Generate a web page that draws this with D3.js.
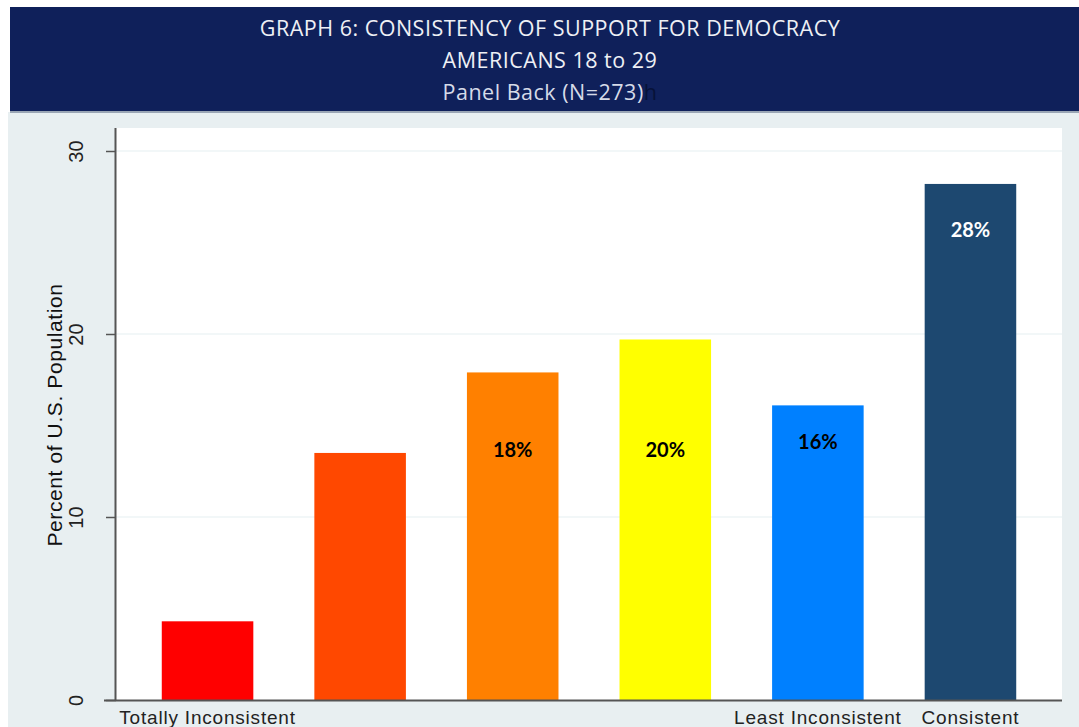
<!DOCTYPE html>
<html><head><meta charset="utf-8">
<script src="https://cdn.jsdelivr.net/npm/d3@7"></script>
<style>body{margin:0;background:#fff;}svg{display:block;}</style>
</head><body>
<svg id="chart" width="1079" height="727"></svg>
<script>
const categories = ["c1","c2","c3","c4","c5","c6"];
const values = [4.3, 13.5, 17.9, 19.7, 16.1, 28.2];
const barColors = ["#ff0000","#ff4800","#ff8000","#ffff00","#0080ff","#1d4870"];
const barLabels = ["", "", "18%", "20%", "16%", "28%"];
const labelColors = ["#000","#000","#000","#000","#000","#fff"];
const labelValues = [0, 0, 13.3, 13.3, 13.7, 25.3];
const xTickLabels = ["Totally Inconsistent","","","","Least Inconsistent","Consistent"];
const yTicks = [0, 10, 20, 30];
const titleLines = ["GRAPH 6: CONSISTENCY OF SUPPORT FOR DEMOCRACY","AMERICANS 18 to 29","Panel Back (N=273)"];

const svg = d3.select("#chart");
svg.append("rect").attr("x",8).attr("y",112).attr("width",1071).attr("height",615).attr("fill","#e8eff1");
svg.append("rect").attr("x",10).attr("y",9).attr("width",1069).attr("height",104).attr("fill","#9aa6b5");
svg.append("rect").attr("x",10).attr("y",7).attr("width",1069).attr("height",104).attr("fill","#0f205a");
const tf = "'Open Sans', 'Noto Sans', sans-serif";
const ty = [36, 68, 100];
titleLines.forEach((t,i)=>{
  const tx = svg.append("text").attr("x",550).attr("y",ty[i]).attr("text-anchor","middle")
    .attr("font-family",tf).attr("font-size",21.5).attr("fill",i==2?"#d6dbe8":"#eef0f5")
    .attr("letter-spacing",0.5).text(t);
  if(i==2) tx.append("tspan").attr("fill","#071238").text("h");
});

const pLeft=116, pRight=1062, pTop=128, pBottom=700;
svg.append("rect").attr("x",pLeft).attr("y",pTop).attr("width",pRight-pLeft).attr("height",pBottom-pTop).attr("fill","#fff");

const x = d3.scaleBand().domain(categories).range([pLeft,pRight]).paddingInner(0.4).paddingOuter(0.3);
const y = d3.scaleLinear().domain([0,30]).range([pBottom, pBottom-30*18.3]);

svg.append("g").selectAll("line").data(yTicks.filter(d=>d>0)).join("line")
  .attr("x1",pLeft).attr("x2",pRight).attr("y1",d=>y(d)).attr("y2",d=>y(d))
  .attr("stroke","#e6eff2").attr("stroke-width",1.2);

svg.append("g").selectAll("rect").data(values).join("rect")
  .attr("x",(d,i)=>x(categories[i])).attr("width",x.bandwidth())
  .attr("y",d=>y(d)).attr("height",d=>y(0)-y(d))
  .attr("fill",(d,i)=>barColors[i]);

svg.append("g").selectAll("text").data(barLabels).join("text")
  .attr("x",(d,i)=>x(categories[i])+x.bandwidth()/2)
  .attr("y",(d,i)=>y(labelValues[i]))
  .attr("text-anchor","middle").attr("font-family","Lato, 'Open Sans', sans-serif")
  .attr("font-weight","bold").attr("font-size",20)
  .attr("fill",(d,i)=>labelColors[i]).text(d=>d);

const yAxis = d3.axisLeft(y).tickValues(yTicks).tickSize(10).tickFormat(d3.format("d"));
const gy = svg.append("g").attr("transform",`translate(${pLeft},0)`).call(yAxis);
gy.select(".domain").attr("d",`M-0.5,${pTop}V${pBottom}`).attr("stroke","#555").attr("stroke-width",2);
gy.selectAll(".tick line").attr("stroke","#555").attr("stroke-width",1.5);
gy.selectAll(".tick text").attr("font-family","'Liberation Sans', Arial, sans-serif").attr("font-size",20)
  .attr("fill","#222").attr("x",0).attr("y",0).attr("dy","0.35em").attr("text-anchor","middle")
  .attr("transform","translate(-40,0) rotate(-90)");

svg.append("text").attr("transform","translate(55,415) rotate(-90)").attr("text-anchor","middle")
  .attr("dy","0.35em").attr("font-family","'Liberation Sans', Arial, sans-serif").attr("font-size",21)
  .attr("letter-spacing",0.6).attr("fill","#111").text("Percent of U.S. Population");

const xAxis = d3.axisBottom(x).tickSize(0).tickFormat((d,i)=>xTickLabels[i]);
const gx = svg.append("g").attr("transform",`translate(0,${pBottom})`).call(xAxis);
gx.select(".domain").attr("d",`M104,0.5H${pRight}`).attr("stroke","#555").attr("stroke-width",2);
gx.selectAll(".tick text").attr("font-family","'Liberation Sans', Arial, sans-serif").attr("font-size",19)
  .attr("letter-spacing",0.8).attr("fill","#222").attr("y",11).attr("dy","0.71em");
</script>
</body></html>
